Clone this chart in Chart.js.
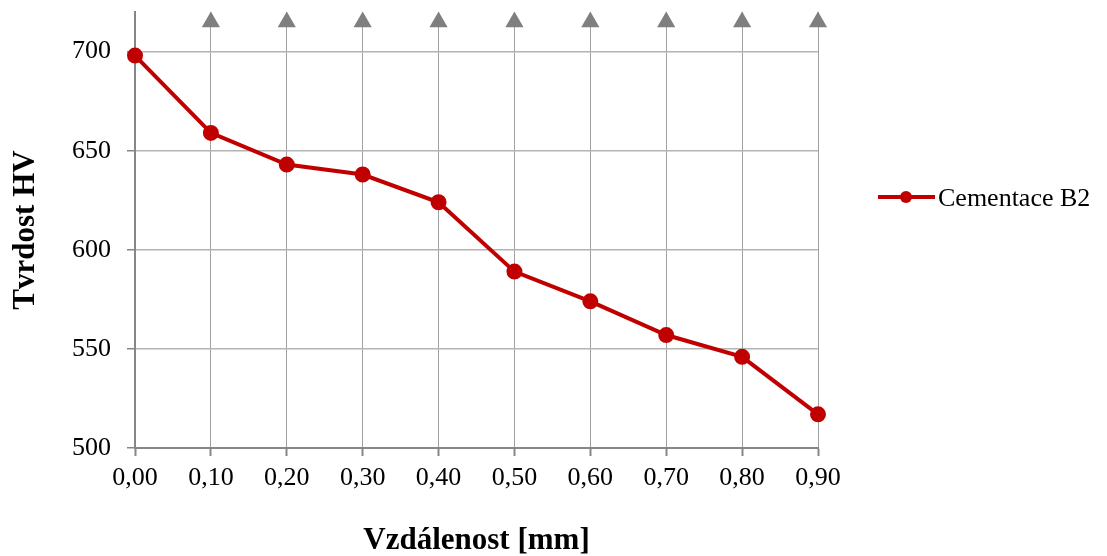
<!DOCTYPE html>
<html>
<head>
<meta charset="utf-8">
<script src="https://cdn.jsdelivr.net/npm/chart.js@4/dist/chart.umd.min.js"></script>
<style>
  html, body { margin: 0; padding: 0; background: #fff; }
  #wrap { width: 1107px; height: 556px; }
</style>
</head>
<body>
<div id="wrap"><canvas id="chart" width="1107" height="556"></canvas></div>
<script>
// data
const distances = ['0,00', '0,10', '0,20', '0,30', '0,40', '0,50', '0,60', '0,70', '0,80', '0,90']
const hardness = [698, 659, 643, 638, 624, 589, 574, 557, 546, 517]
// grey arrow heads at the top of the vertical lines (none at 0,00)
const arrowTips = [null, 715, 715, 715, 715, 715, 715, 715, 715, 715]
const yTicks = [500, 550, 600, 650, 700]

const serif = '"Liberation Serif", "Times New Roman", serif'
const red = '#c00000'

// Excel-like legend: line + marker + text, drawn on the right
const sideLegend = {
  id: 'sideLegend',
  afterDraw(chart) {
    const ctx = chart.ctx
    const ds = chart.data.datasets[0]
    const y = 197
    ctx.save()
    ctx.strokeStyle = ds.borderColor
    ctx.lineWidth = 4
    ctx.beginPath()
    ctx.moveTo(878, y)
    ctx.lineTo(935, y)
    ctx.stroke()
    ctx.fillStyle = ds.pointBackgroundColor
    ctx.beginPath()
    ctx.arc(906, y, 6, 0, Math.PI * 2)
    ctx.fill()
    ctx.fillStyle = '#000'
    ctx.font = '26px ' + serif
    ctx.textBaseline = 'middle'
    ctx.fillText(ds.label, 938, y + 2)
    ctx.restore()
  }
}

new Chart(document.getElementById('chart'), {
  type: 'line',
  data: {
    labels: distances,
    datasets: [
      {
        label: 'Cementace B2',
        data: hardness,
        borderColor: red,
        backgroundColor: red,
        pointBackgroundColor: red,
        pointBorderColor: red,
        borderWidth: 4,
        pointRadius: 6,
        tension: 0,
        clip: false
      },
      {
        label: 'arrows',
        data: arrowTips,
        showLine: false,
        pointStyle: 'triangle',
        pointRadius: 10.5,
        pointBackgroundColor: '#7f7f7f',
        pointBorderColor: '#7f7f7f',
        pointBorderWidth: 0,
        clip: false
      }
    ]
  },
  options: {
    responsive: false,
    animation: false,
    layout: { padding: { top: 12, right: 289, left: 0, bottom: 0 } },
    plugins: {
      legend: { display: false },
      tooltip: { enabled: false }
    },
    scales: {
      x: {
        offset: false,
        afterFit: s => { s.height = 108; s.paddingLeft = 0; s.paddingRight = 0 },
        grid: { color: '#a0a0a0', lineWidth: 1, tickLength: 8, tickColor: '#868686', tickWidth: 2 },
        border: { color: '#868686', width: 2 },
        ticks: { color: '#000', padding: 7, maxRotation: 0, font: { family: serif, size: 26 } },
        title: {
          display: true,
          text: 'Vzdálenost [mm]',
          color: '#000',
          padding: { top: 0, bottom: 0 },
          font: { family: serif, size: 31, weight: 'bold', lineHeight: 1 }
        }
      },
      y: {
        min: 500,
        max: 720,
        afterFit: s => { s.width = 135; s.paddingTop = 0; s.paddingBottom = 0 },
        afterBuildTicks: s => { s.ticks = yTicks.map(v => ({ value: v })) },
        grid: { color: '#b4b4b4', lineWidth: 1.5, tickLength: 8, tickColor: '#868686' },
        border: { color: '#868686', width: 2 },
        ticks: { color: '#000', padding: 16, font: { family: serif, size: 26 } },
        title: {
          display: true,
          text: 'Tvrdost HV',
          color: '#000',
          padding: { top: 10, bottom: 10 },
          font: { family: serif, size: 31, weight: 'bold', lineHeight: 1 }
        }
      }
    }
  },
  plugins: [sideLegend]
})
</script>
</body>
</html>
